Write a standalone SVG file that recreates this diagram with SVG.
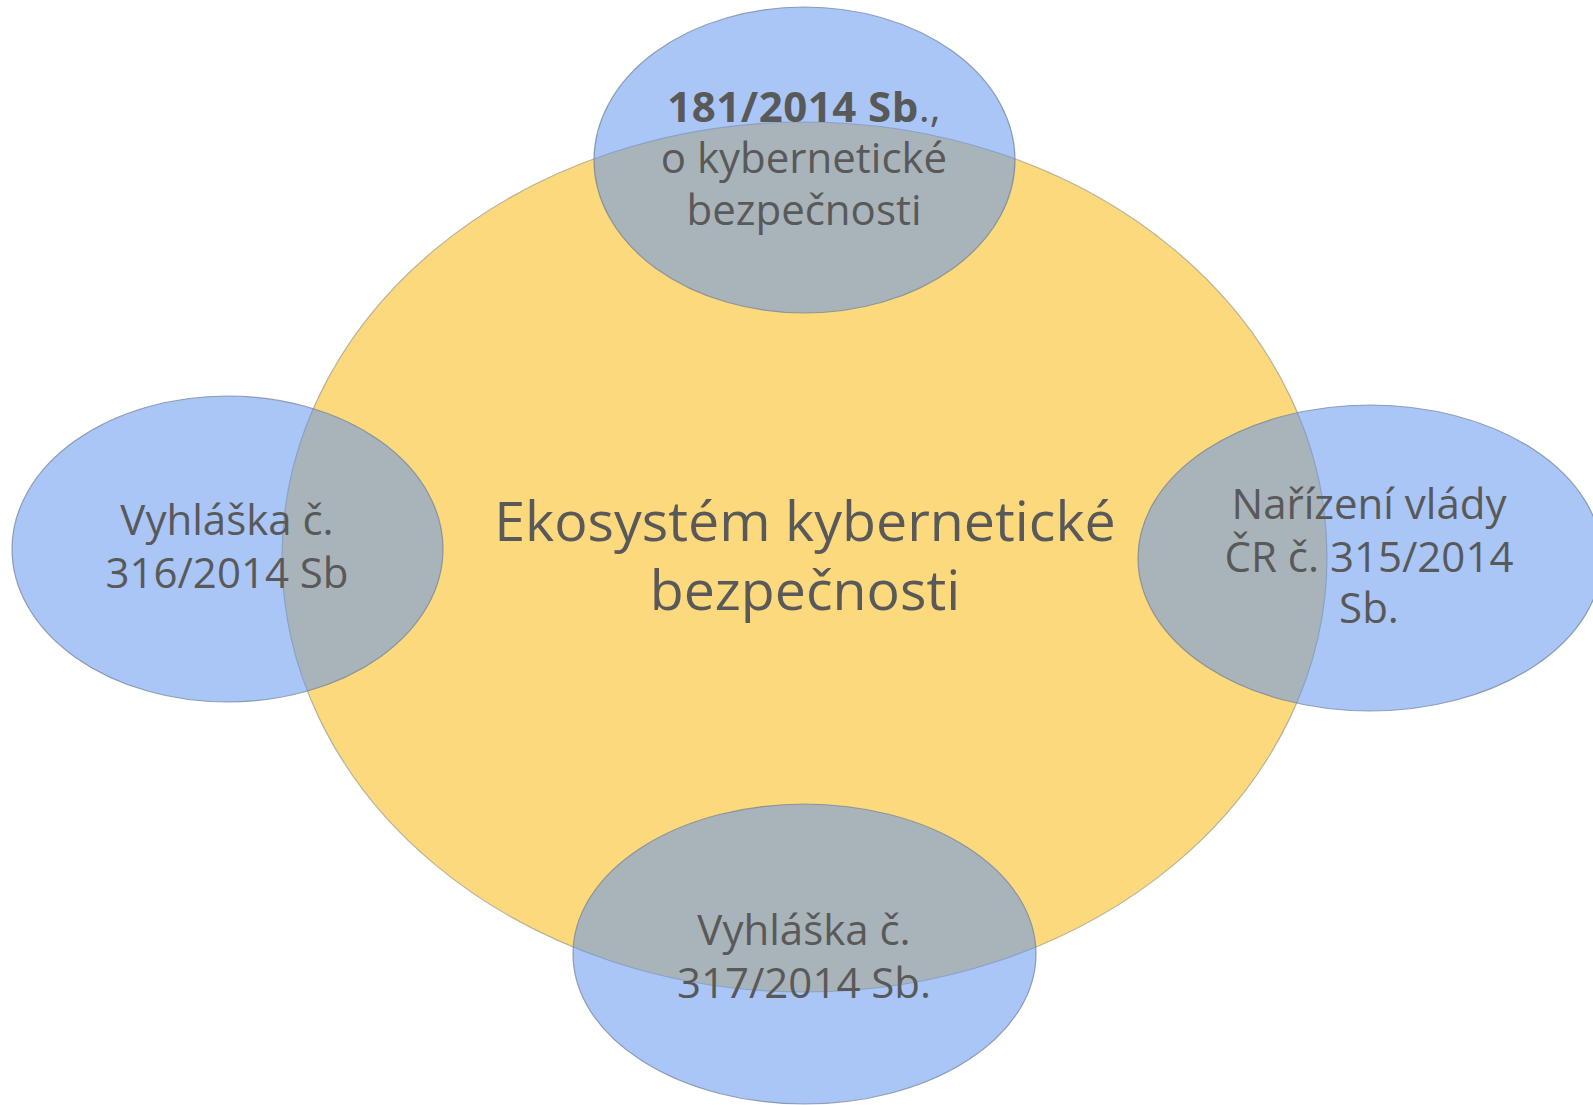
<svg xmlns="http://www.w3.org/2000/svg" width="1593" height="1105" viewBox="0 0 1593 1105">
  <style>
    .main { fill: #FDD97E; stroke: #9a9a8a; stroke-opacity: 0.7; stroke-width: 1.2; }
    .sat { fill: rgb(95,147,240); fill-opacity: 0.53; stroke: #6f7f95; stroke-opacity: 0.7; stroke-width: 1.2; }
    text { font-family: "Open Sans", "Noto Sans", "DejaVu Sans", sans-serif; fill: #595959; text-anchor: middle; }
    .big { font-size: 55.5px; }
    .small { font-size: 42px; }
    .b { font-weight: bold; letter-spacing: 0.5px; }
  </style>
  <rect width="1593" height="1105" fill="#ffffff"/>
  <g id="ekosystem">
    <ellipse class="main" cx="804.5" cy="557" rx="522.5" ry="435"/>
  </g>
  <g id="zakon-181">
    <ellipse class="sat" cx="804.5" cy="160" rx="210.5" ry="153"/>
  </g>
  <g id="vyhlaska-316">
    <ellipse class="sat" cx="227.5" cy="549" rx="215.5" ry="153"/>
  </g>
  <g id="narizeni-315">
    <ellipse class="sat" cx="1370" cy="558" rx="232" ry="153"/>
  </g>
  <g id="vyhlaska-317">
    <ellipse class="sat" cx="804.5" cy="954" rx="231.5" ry="150"/>
  </g>
  <g id="connectors"/>
  <g id="labels">
    <text class="big" x="805" y="541">Ekosystém kybernetické</text>
    <text class="big" x="805" y="610">bezpečnosti</text>
    <text class="small" x="804" y="122"><tspan class="b">181/2014 Sb</tspan>.,</text>
    <text class="small" x="804" y="173">o kybernetické</text>
    <text class="small" x="804" y="225">bezpečnosti</text>
    <text class="small" x="227" y="535">Vyhláška č.</text>
    <text class="small" x="227" y="588">316/2014 Sb</text>
    <text class="small" x="1369" y="519">Nařízení vlády</text>
    <text class="small" x="1369" y="572">ČR č. 315/2014</text>
    <text class="small" x="1369" y="623">Sb.</text>
    <text class="small" x="804" y="945">Vyhláška č.</text>
    <text class="small" x="804" y="998">317/2014 Sb.</text>
  </g>
</svg>
